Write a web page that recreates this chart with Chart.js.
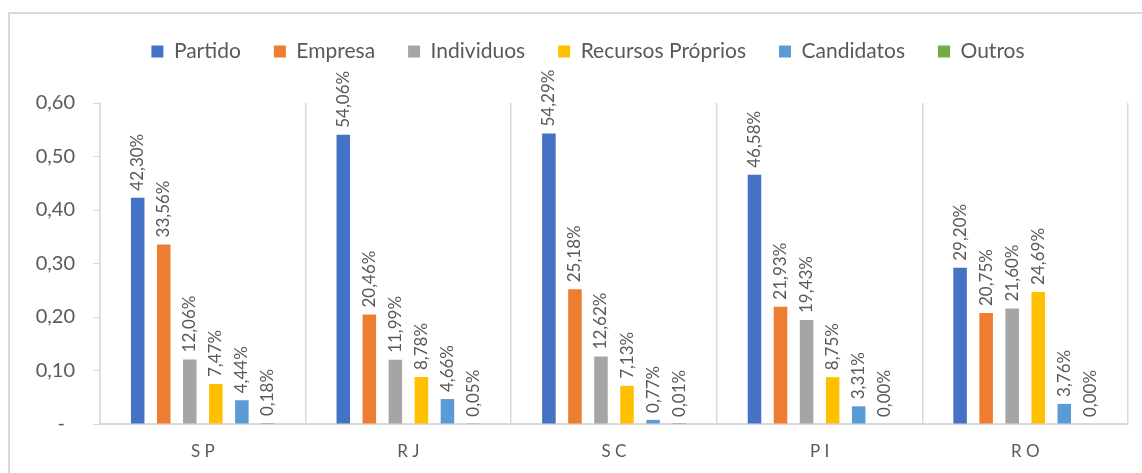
<!DOCTYPE html>
<html>
<head>
<meta charset="utf-8">
<script src="https://cdn.jsdelivr.net/npm/chart.js@4.4.1/dist/chart.umd.min.js"></script>
<style>
    html, body { margin: 0; padding: 0; background: #fff; overflow: hidden; }
    #frame { position: absolute; left: 8px; top: 12px; width: 1160px; height: 500px; border: 2px solid #d9d9d9; }
    #wrap { position: absolute; left: 0; top: 0; width: 1142px; height: 473px; }
</style>
</head>
<body>
<div id="frame"></div>
<div id="wrap"><canvas id="fin-chart"></canvas></div>
<script>
const estados = ['S P', 'R J', 'S C', 'P I', 'R O'];
const partido = [0.4230, 0.5406, 0.5429, 0.4658, 0.2920];
const empresa = [0.3356, 0.2046, 0.2518, 0.2193, 0.2075];
const individuos = [0.1206, 0.1199, 0.1262, 0.1943, 0.2160];
const recursosProprios = [0.0747, 0.0878, 0.0713, 0.0875, 0.2469];
const candidatos = [0.0444, 0.0466, 0.0077, 0.0331, 0.0376];
const outros = [0.0018, 0.0005, 0.0001, 0.0000, 0.0000];

const textColor = '#595959';
const gridColor = '#d9d9d9';
const fontFamily = 'Lato, "Open Sans", sans-serif';

function pct(v) {
    return (v * 100).toFixed(2).replace('.', ',') + '%';
}

// rotated value labels over each bar
const barLabels = {
    id: 'barLabels',
    afterDatasetsDraw(chart) {
        const ctx = chart.ctx;
        ctx.save();
        ctx.fillStyle = textColor;
        ctx.font = '17px ' + fontFamily;
        ctx.textAlign = 'left';
        ctx.textBaseline = 'middle';
        chart.data.datasets.forEach((ds, i) => {
            const meta = chart.getDatasetMeta(i);
            meta.data.forEach((bar, j) => {
                ctx.save();
                ctx.translate(bar.x, bar.y - 7);
                ctx.rotate(-Math.PI / 2);
                ctx.fillText(pct(ds.data[j]), 0, 0);
                ctx.restore();
            });
        });
        ctx.restore();
    }
};

// legend sits right of centre and higher up than chart.js puts it
const legendShift = {
    id: 'legendShift',
    afterLayout(chart) {
        const lg = chart.legend;
        lg.left += 24;
        lg.right += 24;
        lg.top -= 31;
        lg.bottom -= 31;
    }
};

function serie(label, data, color) {
    return {
        label: label,
        data: data,
        backgroundColor: color,
        borderWidth: 0,
        categoryPercentage: 0.76,
        barPercentage: 0.52
    };
}

new Chart(document.getElementById('fin-chart'), {
    type: 'bar',
    data: {
        labels: estados,
        datasets: [
            serie('Partido', partido, '#4472c4'),
            serie('Empresa', empresa, '#ed7d31'),
            serie('Individuos', individuos, '#a5a5a5'),
            serie('Recursos Próprios', recursosProprios, '#ffc000'),
            serie('Candidatos', candidatos, '#5b9bd5'),
            serie('Outros', outros, '#70ad47')
        ]
    },
    options: {
        responsive: true,
        maintainAspectRatio: false,
        animation: false,
        layout: { padding: { left: 0, right: 14, top: 6, bottom: 0 } },
        plugins: {
            legend: {
                position: 'top',
                labels: {
                    color: textColor,
                    font: { family: fontFamily, size: 21 },
                    boxWidth: 12,
                    boxHeight: 12,
                    padding: 33
                }
            },
            tooltip: { enabled: false }
        },
        scales: {
            x: {
                grid: { color: gridColor, lineWidth: 1.5, offset: true, drawTicks: false },
                border: { color: gridColor, width: 2 },
                ticks: { color: textColor, font: { family: fontFamily, size: 17 }, padding: 17 },
                afterFit(scale) { scale.height = 49; }
            },
            y: {
                min: 0,
                max: 0.6,
                grid: { drawOnChartArea: false, color: gridColor, tickLength: 7 },
                border: { color: gridColor, width: 1.5 },
                ticks: {
                    stepSize: 0.1,
                    color: textColor,
                    font: { family: fontFamily, size: 20 },
                    padding: 18,
                    callback: v => v === 0 ? '-\u2002' : v.toFixed(2).replace('.', ',')
                },
                afterFit(scale) {
                    scale.width = 100;
                    scale.paddingTop = 103;
                }
            }
        }
    },
    plugins: [barLabels, legendShift]
});
</script>
</body>
</html>
